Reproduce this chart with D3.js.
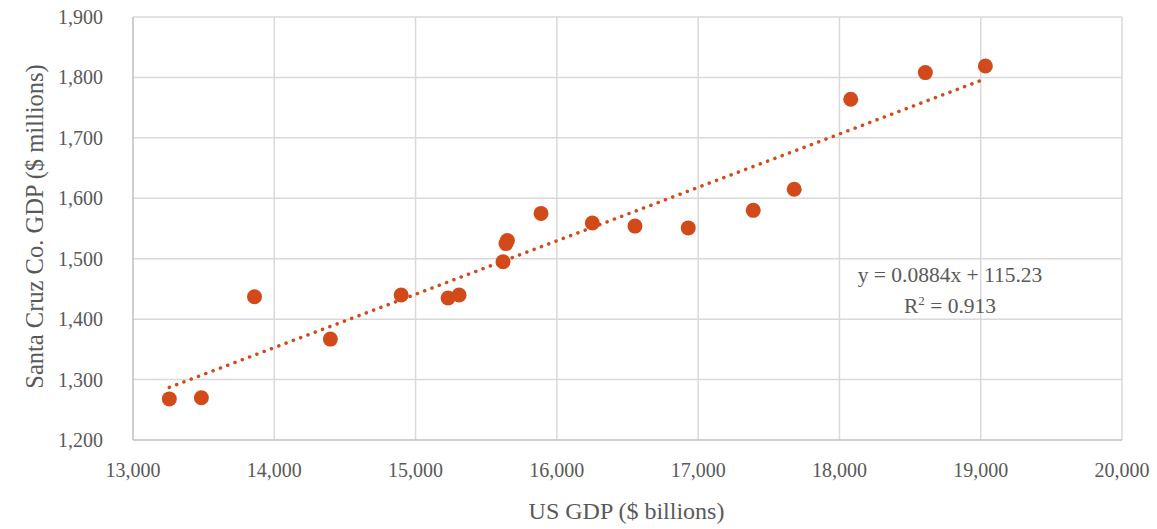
<!DOCTYPE html>
<html>
<head>
<meta charset="utf-8">
<script src="https://cdn.jsdelivr.net/npm/d3@7"></script>
<style>
  body { margin: 0; background: #fff; }
  text { font-family: "Liberation Serif", "DejaVu Serif", serif; fill: #595959; }
</style>
</head>
<body>
<svg id="chart" width="1157" height="529"></svg>
<script>
// US GDP ($ billions) vs Santa Cruz Co. GDP ($ millions)
const usGdp = [13257, 13484, 13860, 14397, 14898, 15230, 15308, 15619, 15640, 15650,
               15888, 16251, 16553, 16930, 17390, 17680, 18080, 18608, 19033];
const scGdp = [1268, 1270, 1437, 1367, 1440, 1435, 1440, 1495, 1525, 1530,
               1575, 1559, 1554, 1551, 1580, 1615, 1764, 1808, 1819];
const xTicks = [13000, 14000, 15000, 16000, 17000, 18000, 19000, 20000];
const yTicks = [1200, 1300, 1400, 1500, 1600, 1700, 1800, 1900];
const slope = 0.0884, intercept = 115.23, rSquared = 0.913;

const svg = d3.select("#chart");
const margin = { top: 17, right: 35, bottom: 89, left: 133 };
const width = 1157 - margin.left - margin.right;
const height = 529 - margin.top - margin.bottom;
const color = "#d24a1a";

const x = d3.scaleLinear().domain([13000, 20000]).range([margin.left, margin.left + width]);
const y = d3.scaleLinear().domain([1200, 1900]).range([margin.top + height, margin.top]);
const fmt = d3.format(",");

// gridlines
const grid = svg.append("g");
grid.selectAll(".gx").data(xTicks.slice(1)).enter().append("line")
    .attr("x1", d => x(d)).attr("x2", d => x(d))
    .attr("y1", y(1200)).attr("y2", y(1900))
    .attr("stroke", "#d9d9d9").attr("stroke-width", 1.5);
grid.selectAll(".gy").data(yTicks.slice(1)).enter().append("line")
    .attr("x1", x(13000)).attr("x2", x(20000))
    .attr("y1", d => y(d)).attr("y2", d => y(d))
    .attr("stroke", "#d9d9d9").attr("stroke-width", 1.5);

// axis lines
svg.append("line").attr("x1", x(13000)).attr("x2", x(13000)).attr("y1", y(1200)).attr("y2", y(1900))
    .attr("stroke", "#bfbfbf").attr("stroke-width", 1.5);
svg.append("line").attr("x1", x(13000)).attr("x2", x(20000)).attr("y1", y(1200)).attr("y2", y(1200))
    .attr("stroke", "#bfbfbf").attr("stroke-width", 1.5);

// tick labels
svg.selectAll(".xl").data(xTicks).enter().append("text")
    .attr("x", d => x(d)).attr("y", y(1200) + 37)
    .attr("text-anchor", "middle").style("font-size", "20px")
    .text(d => fmt(d));
svg.selectAll(".yl").data(yTicks).enter().append("text")
    .attr("x", 103).attr("y", d => y(d)).attr("dy", "0.35em")
    .attr("text-anchor", "end").style("font-size", "20px")
    .text(d => fmt(d));

// axis titles
svg.append("text").attr("x", x(13000) + width / 2 - 1).attr("y", 519)
    .attr("text-anchor", "middle").style("font-size", "24px")
    .text("US GDP ($ billions)");
svg.append("text")
    .attr("transform", `translate(43,${y(1550) - 2}) rotate(-90)`)
    .attr("text-anchor", "middle").style("font-size", "24.5px")
    .text("Santa Cruz Co. GDP ($ millions)");

// trendline
const x0 = d3.min(usGdp), x1 = d3.max(usGdp);
svg.append("line")
    .attr("x1", x(x0)).attr("y1", y(slope * x0 + intercept))
    .attr("x2", x(x1)).attr("y2", y(slope * x1 + intercept))
    .attr("stroke", color).attr("stroke-width", 3.5)
    .attr("stroke-linecap", "round").attr("stroke-dasharray", "0.1 7.7");

// points
svg.selectAll(".pt").data(usGdp).enter().append("circle")
    .attr("cx", d => x(d)).attr("cy", (d, i) => y(scGdp[i]))
    .attr("r", 7.5).attr("fill", color);

// equation
svg.append("text").attr("x", 950).attr("y", 282).attr("text-anchor", "middle")
    .style("font-size", "21.5px").text(`y = ${slope}x + ${intercept}`);
const r2 = svg.append("text").attr("x", 950).attr("y", 313).attr("text-anchor", "middle")
    .style("font-size", "21.5px");
r2.append("tspan").text("R");
r2.append("tspan").attr("dy", -8).style("font-size", "13px").text("2");
r2.append("tspan").attr("dy", 8).text(` = ${rSquared}`);
</script>
</body>
</html>
